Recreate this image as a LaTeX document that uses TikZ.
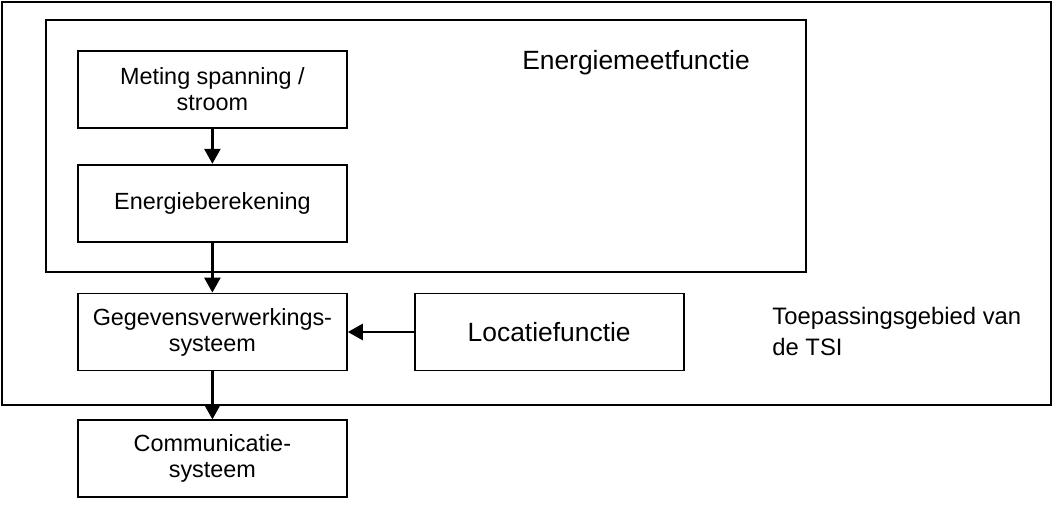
\documentclass[tikz,border=0pt]{standalone}
\usepackage{fontspec}
\setmainfont{Liberation Sans}
\usetikzlibrary{arrows.meta, positioning}

\begin{document}
\begin{tikzpicture}[x=0.5pt, y=-0.5pt,
  blok/.style={draw, line width=0.9pt, minimum width=134.5pt, minimum height=38.5pt,
    align=center, inner sep=2pt, font=\fontsize{11.7}{13}\selectfont},
  groot/.style={font=\fontsize{13.2}{15}\selectfont},
  kader/.style={draw, line width=0.9pt},
  pijl/.style={-{Triangle[length=7.5pt, width=8pt]}, line width=1.3pt}]
  \useasboundingbox (0,0) rectangle (1060,508);

  % kaders
  \draw[kader] (2,2) rectangle (1051,405);
  \draw[kader] (46,20) rectangle (806,272);

  % blokken
  \node[blok, anchor=north west] (meting) at (77,50) {Meting spanning /\\stroom};
  \node[blok, below=17.5pt of meting] (berekening) {Energieberekening};
  \node[blok, below=25pt of berekening] (gegevens) {Gegevensverwerkings-\\systeem};
  \node[blok, below=24pt of gegevens] (communicatie) {Communicatie-\\systeem};
  \node[blok, groot, right=33pt of gegevens] (locatie) {Locatiefunctie};

  % labels
  \node[groot] (energie) at (636,63) {Energiemeetfunctie};
  \node[anchor=north west, align=left, inner sep=0pt, font=\fontsize{11.9}{15.5}\selectfont]
    (tsi) at (772,307) {Toepassingsgebied van\\de TSI};

  % pijlen
  \draw[pijl] (meting) -- (berekening);
  \draw[pijl] (berekening) -- (gegevens);
  \draw[pijl] (gegevens) -- (communicatie);
  \draw[pijl] (locatie) -- (gegevens);
\end{tikzpicture}
\end{document}
